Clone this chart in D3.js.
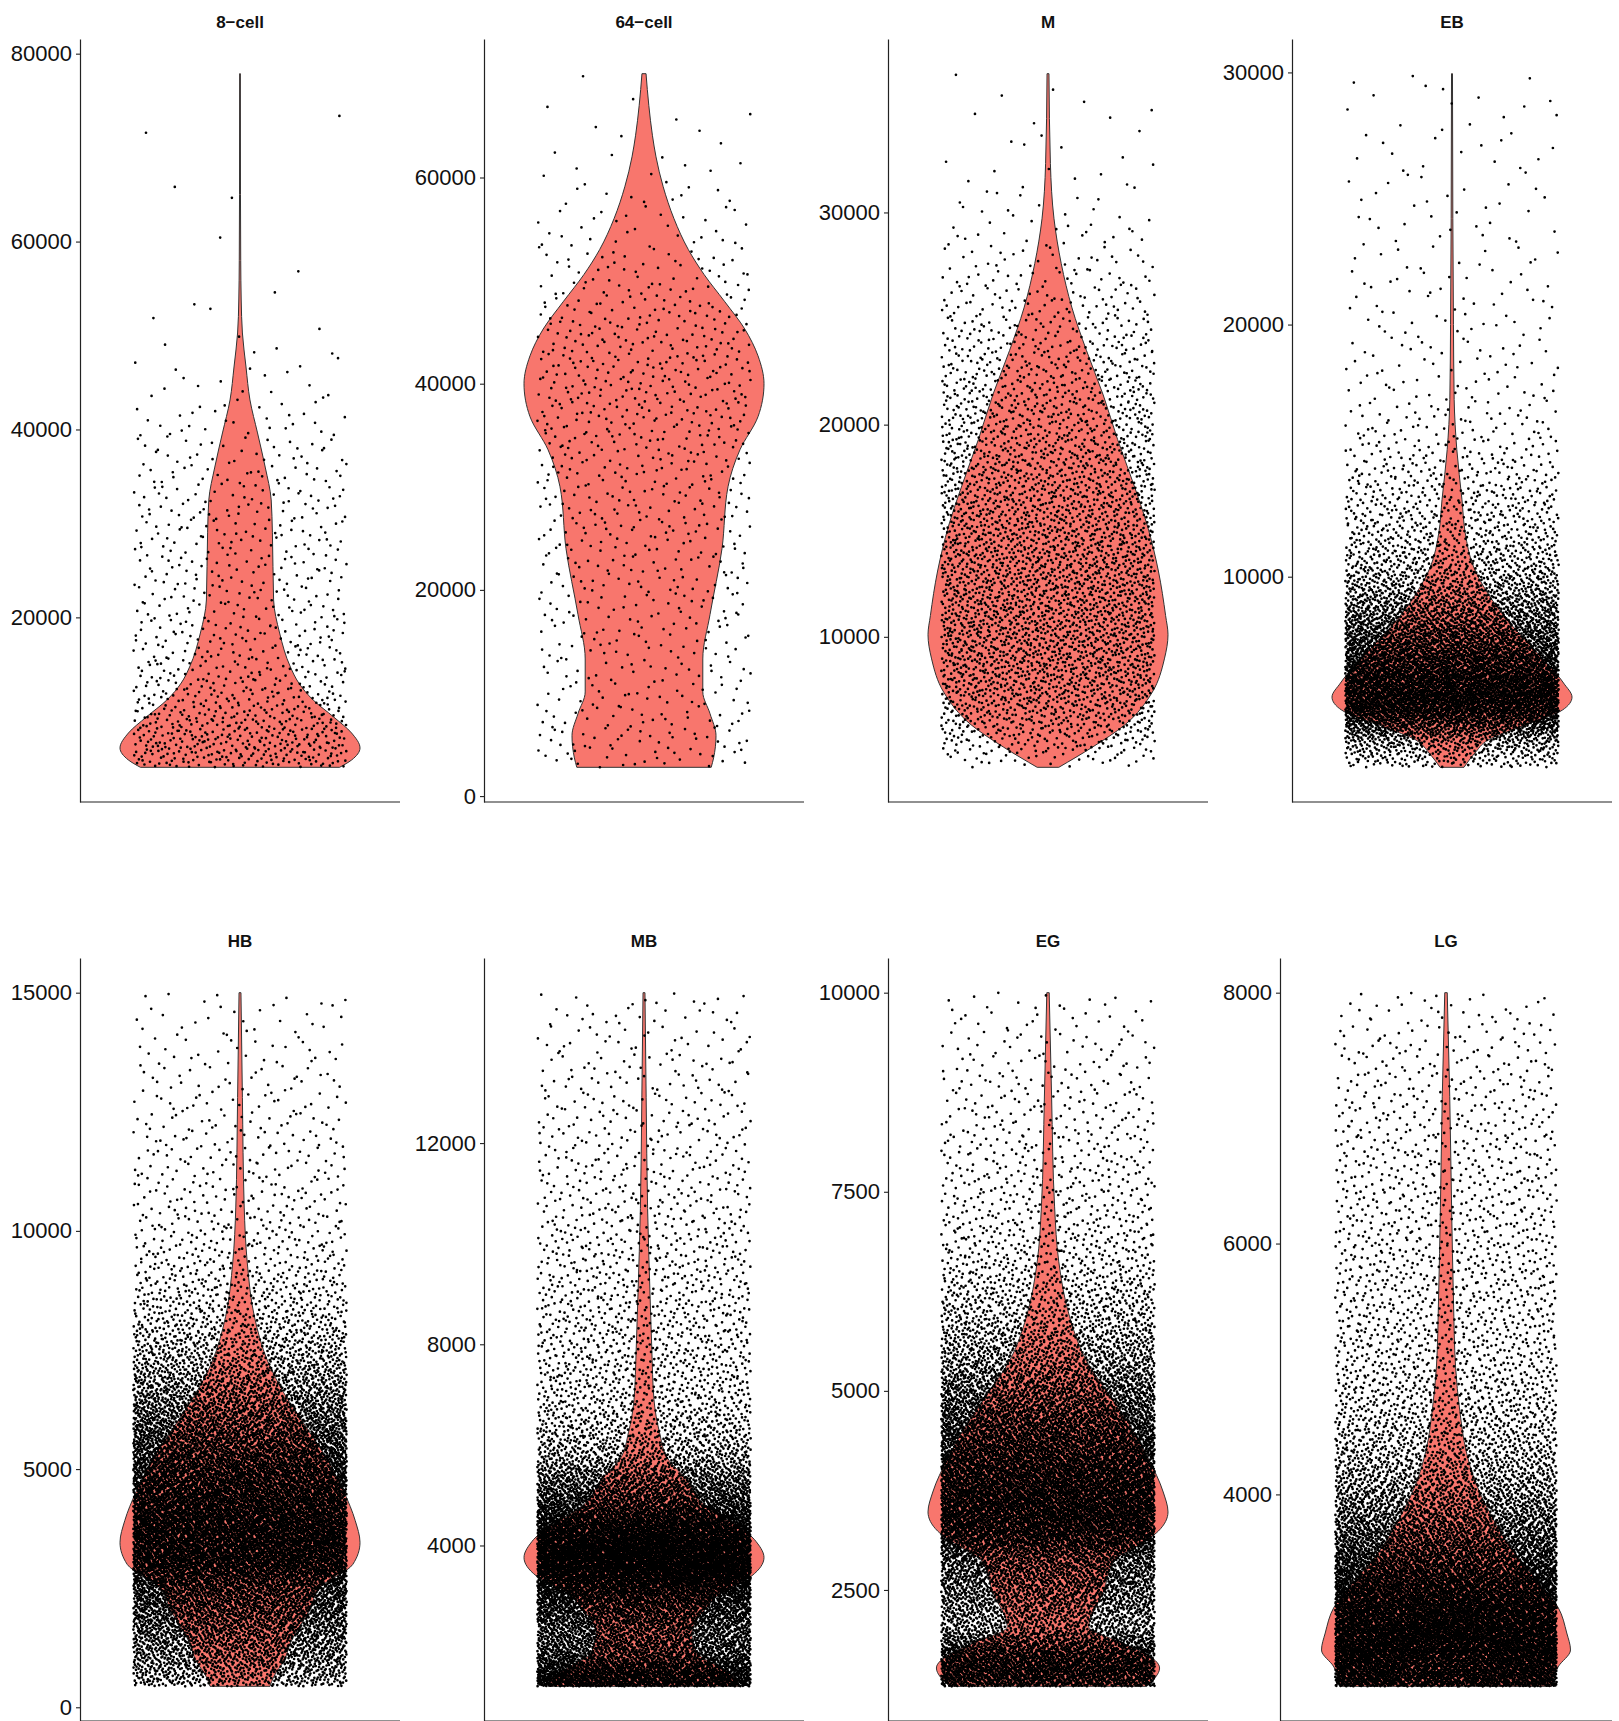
<!DOCTYPE html>
<html>
<head>
<meta charset="utf-8">
<script src="https://cdn.jsdelivr.net/npm/d3@7"></script>
<style>
body { margin: 0; background: #fff; }
svg { display: block; }
text { font-family: "Liberation Sans", Arial, Helvetica, sans-serif; }
</style>
</head>
<body>
<div id="chart"></div>
<script>
// panel titles, row by row
var panelNames = ["8\u2212cell", "64\u2212cell", "M", "EB", "HB", "MB", "EG", "LG"];

// min / max of each panel's values (violins are trimmed to these)
var valueRanges = [
    [4040, 77870], [2790, 70070], [3850, 36540], [2440, 29950],
    [440, 15000], [1200, 14990], [1290, 10000], [2470, 8000]
];

var tickValues = [
    [20000, 40000, 60000, 80000],
    [0, 20000, 40000, 60000],
    [10000, 20000, 30000],
    [10000, 20000, 30000],
    [0, 5000, 10000, 15000],
    [4000, 8000, 12000],
    [2500, 5000, 7500, 10000],
    [4000, 6000, 8000]
];

// approximate number of cells drawn as points in each panel
var pointCounts = [1000, 950, 3800, 8000, 15000, 15000, 16000, 14000];

// violin profiles: [value, relative width]
var profile8cell = [[4040, 0.83], [4820, 0.93], [6100, 1.0], [7690, 0.93], [9400, 0.78], [11200, 0.61],
    [13010, 0.49], [14720, 0.42], [18340, 0.33], [21850, 0.28], [29000, 0.27], [32500, 0.26],
    [36000, 0.21], [39630, 0.146], [43140, 0.083], [46650, 0.05], [50270, 0.02], [53780, 0.01],
    [58000, 0.006], [65000, 0.004], [77870, 0.003]];
var profile64cell = [[2790, 0.56], [3700, 0.58], [5860, 0.6], [8000, 0.55], [10100, 0.49], [13300, 0.49],
    [17600, 0.55], [24000, 0.65], [30000, 0.7], [33600, 0.8], [36800, 0.95], [40000, 1.0],
    [42700, 0.95], [45300, 0.84], [48000, 0.67], [50600, 0.5], [53000, 0.37], [56000, 0.25],
    [59100, 0.16], [62000, 0.1], [64100, 0.07], [67000, 0.04], [70070, 0.017]];
var profileM = [[3850, 0.09], [4800, 0.37], [5850, 0.64], [7400, 0.87], [8960, 0.97], [10100, 1.0],
    [11000, 0.98], [13100, 0.92], [15200, 0.83], [17250, 0.71], [19300, 0.58], [21400, 0.46],
    [23500, 0.32], [25500, 0.2], [27600, 0.11], [29700, 0.05], [32300, 0.02], [36540, 0.008]];
var profileEB = [[2440, 0.1], [3000, 0.19], [3520, 0.3], [4030, 0.56], [4710, 0.92], [5225, 1.0],
    [5780, 0.93], [7090, 0.69], [8400, 0.44], [9480, 0.28], [10390, 0.18], [11740, 0.11],
    [13060, 0.083], [15040, 0.04], [17030, 0.018], [20000, 0.012], [24200, 0.007], [29950, 0.004]];
var profileHB = [[440, 0.25], [636, 0.28], [992, 0.37], [1350, 0.42], [2042, 0.58], [2525, 0.67],
    [3000, 0.94], [3460, 1.0], [3920, 0.96], [4500, 0.87], [5190, 0.73], [5890, 0.55], [6580, 0.37],
    [7270, 0.23], [8200, 0.12], [9350, 0.06], [10500, 0.035], [12800, 0.02], [15000, 0.008]];
var profileMB = [[1200, 0.8], [1390, 0.75], [1590, 0.62], [1870, 0.44], [2270, 0.4], [2786, 0.53],
    [3060, 0.64], [3400, 0.9], [3760, 1.0], [4120, 0.92], [4910, 0.46], [5250, 0.375], [5760, 0.19],
    [6240, 0.13], [6900, 0.083], [7900, 0.065], [9000, 0.05], [10700, 0.03], [12900, 0.018], [14990, 0.008]];
var profileEG = [[1290, 0.82], [1520, 0.93], [1710, 0.8], [1840, 0.61], [2040, 0.34], [2470, 0.46],
    [2880, 0.56], [3040, 0.73], [3240, 0.92], [3480, 1.0], [3730, 0.96], [4140, 0.84], [4550, 0.69],
    [4970, 0.5], [5380, 0.32], [5930, 0.18], [6620, 0.09], [7310, 0.055], [8690, 0.03], [10000, 0.01]];
var profileLG = [[2470, 0.85], [2624, 0.9], [2760, 1.0], [2895, 0.97], [3100, 0.9], [3290, 0.75],
    [3556, 0.53], [3820, 0.37], [4090, 0.24], [4354, 0.16], [4673, 0.11], [5015, 0.077], [5550, 0.06],
    [6290, 0.045], [7170, 0.03], [8000, 0.01]];

var profiles = [profile8cell, profile64cell, profileM, profileEB, profileHB, profileMB, profileEG, profileLG];

var width = 1619, height = 1721;
var colWidth = 404, plotRightInset = 400;
var rowTops = [39, 958], rowHeight = 763, titleOffset = 11;
var fill = "#F8766D", outline = "#333333";
var pointRadius = 1.35;

// deterministic low-discrepancy sequence used for jitter placement
var halton = function (index, base) {
    var f = 1, r = 0, i = index;
    while (i > 0) {
        f = f / base;
        r = r + f * (i % base);
        i = Math.floor(i / base);
    }
    return r;
};

// interpolate the relative width at a value
var widthAt = function (prof, v) {
    if (v <= prof[0][0]) return prof[0][1];
    for (var i = 1; i < prof.length; i++) {
        if (v <= prof[i][0]) {
            var a = prof[i - 1], b = prof[i];
            var t = (v - a[0]) / (b[0] - a[0]);
            return a[1] + t * (b[1] - a[1]);
        }
    }
    return prof[prof.length - 1][1];
};

// inverse CDF of the violin density, on a fine grid
var makeQuantile = function (prof, lo, hi) {
    var n = 800, grid = [], cdf = [0], total = 0;
    for (var i = 0; i <= n; i++) grid.push(lo + (hi - lo) * i / n);
    for (var j = 1; j <= n; j++) {
        total += (widthAt(prof, grid[j - 1]) + widthAt(prof, grid[j])) / 2;
        cdf.push(total);
    }
    cdf = cdf.map(function (c) { return c / total; });
    return function (u) {
        var k = d3.bisectLeft(cdf, u);
        if (k <= 0) return lo;
        if (k > n) return hi;
        var t = (u - cdf[k - 1]) / (cdf[k] - cdf[k - 1]);
        return grid[k - 1] + t * (grid[k] - grid[k - 1]);
    };
};

var svg = d3.select("#chart").append("svg")
    .attr("width", width)
    .attr("height", height);

var measure = svg.append("text").attr("font-size", 22).attr("visibility", "hidden");
var textWidth = function (s) {
    measure.text(s);
    return measure.node().getComputedTextLength();
};

panelNames.forEach(function (name, p) {
    var row = Math.floor(p / 4), col = p % 4;
    var top = rowTops[row], bottom = top + rowHeight;
    var ticks = tickValues[p];
    var labelW = d3.max(ticks, function (t) { return textWidth(String(t)); });
    var left = Math.round(col * colWidth + labelW + 19);
    var right = col * colWidth + plotRightInset;
    var lo = valueRanges[p][0], hi = valueRanges[p][1];
    var pad = (hi - lo) * 0.05;

    var y = d3.scaleLinear().domain([lo - pad, hi + pad]).range([bottom, top]);
    var x = d3.scaleLinear().domain([0.4, 1.6]).range([left, right]);
    var g = svg.append("g").attr("class", "panel");

    // violin
    var prof = profiles[p];
    var area = d3.area()
        .y(function (d) { return y(d[0]); })
        .x0(function (d) { return x(1 - 0.45 * d[1]); })
        .x1(function (d) { return x(1 + 0.45 * d[1]); })
        .curve(d3.curveMonotoneY);
    g.append("path")
        .datum(prof)
        .attr("d", area)
        .attr("fill", fill)
        .attr("stroke", outline)
        .attr("stroke-width", 1)
        .attr("stroke-linejoin", "round");

    // jittered points (leaped Halton indices break up the lattice)
    var quant = makeQuantile(prof, lo, hi);
    var r = pointRadius, dots = [];
    for (var i = 1; i <= pointCounts[p]; i++) {
        var v = quant(halton(i * 409 + 11 * p, 2));
        var jx = 1 + (halton(i * 773 + 5 * p, 3) * 2 - 1) * 0.4;
        var px = x(jx), py = y(v);
        dots.push("M" + (px - r).toFixed(2) + "," + py.toFixed(2) +
            "a" + r + "," + r + " 0 1,0 " + (2 * r) + ",0" +
            "a" + r + "," + r + " 0 1,0 " + (-2 * r) + ",0");
    }
    g.append("path")
        .attr("d", dots.join(""))
        .attr("fill", "#000");

    // axes
    var yAxis = g.append("g")
        .attr("transform", "translate(" + left + ",0)")
        .call(d3.axisLeft(y).tickValues(ticks).tickSize(4).tickSizeOuter(0).tickPadding(4)
            .tickFormat(d3.format("d")));
    yAxis.selectAll("text").attr("font-size", 22).attr("fill", "#111")
        .style("font-family", "'Liberation Sans', Arial, sans-serif");
    yAxis.selectAll("line").attr("stroke", "#222").attr("stroke-width", 1.1);
    yAxis.select(".domain").attr("stroke", "#222").attr("stroke-width", 1.2);

    g.append("line")
        .attr("x1", left).attr("x2", right)
        .attr("y1", bottom).attr("y2", bottom)
        .attr("stroke", "#222").attr("stroke-width", 1.2);

    g.append("text")
        .attr("x", (left + right) / 2)
        .attr("y", top - titleOffset)
        .attr("text-anchor", "middle")
        .attr("font-size", 17)
        .attr("font-weight", "bold")
        .attr("fill", "#111")
        .text(name);
});
measure.remove();
</script>
</body>
</html>
